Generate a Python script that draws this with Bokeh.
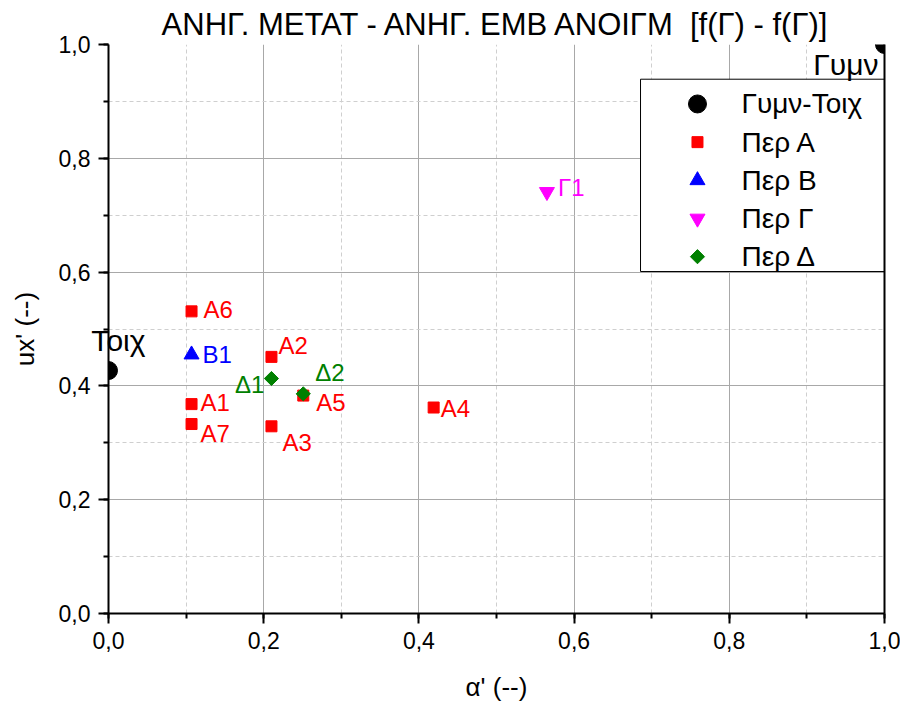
import math
from bokeh.plotting import figure
from bokeh.models import (ColumnDataSource, LinearAxis, Range1d, SingleIntervalTicker,
                          FixedTicker, CustomJSTickFormatter, Label, Title)
from bokeh.core.properties import value
from bokeh.embed import file_html
from bokeh.resources import INLINE

# ---------------- data ----------------
gt_x = [0.0, 1.0]
gt_y = [0.427, 1.0]
gt_lab = ["Τοιχ", "Γυμν"]

a_x = [0.107, 0.210, 0.210, 0.419, 0.251, 0.107, 0.107]
a_y = [0.368, 0.451, 0.329, 0.362, 0.383, 0.531, 0.333]
a_lab = ["A1", "A2", "A3", "A4", "A5", "A6", "A7"]

b_x = [0.107]
b_y = [0.455]
b_lab = ["B1"]

g_x = [0.565]
g_y = [0.741]
g_lab = ["Γ1"]

d_x = [0.210, 0.251]
d_y = [0.413, 0.386]
d_lab = ["Δ1", "Δ2"]

series_names = ["Γυμν-Τοιχ", "Περ Α", "Περ Β", "Περ Γ", "Περ Δ"]
title_text = "ΑΝΗΓ. ΜΕΤΑΤ - ΑΝΗΓ. ΕΜΒ ΑΝΟΙΓΜ \u00a0[f(Γ) - f(Γ)]"
x_title = "α' (--)"
y_title = "ux' (--)"

# ---------------- style ----------------
FONT = "Liberation Sans"
FRAME_H = 574  # frame height in px
# label offsets (pixels, screen, +dy = down) and alignment per label
lab_style = {
    "Τοιχ": (-139, -30, "axis"), "Γυμν": (-6, 20, "right"),
    "A1": (9, -2, "left"), "A2": (7, -11, "left"), "A3": (11, 16, "left"),
    "A4": (7, 1, "left"), "A5": (13, 7, "left"), "A6": (12, -2, "left"),
    "A7": (9, 9, "left"), "B1": (11, 0, "left"), "Γ1": (11, -4, "left"),
    "Δ1": (-7, 6, "right"), "Δ2": (12, -21, "left"),
}
series_style = [
    # marker, color, size, angle, label font size
    ("circle", "black", 18, 0.0, "30px"),
    ("square", "red", 11, 0.0, "24px"),
    ("triangle", "blue", 15, 0.0, "24px"),
    ("inverted_triangle", "magenta", 15, 0.0, "24px"),
    ("square", "green", 10, math.pi / 4, "24px"),
]
# legend box geometry (fractions of the axes)
LEG_L, LEG_R, LEG_T, LEG_B = 0.6856, 1.0, 0.939, 0.601
LEG_MX, LEG_TX, LEG_ROW0, LEG_STEP = 0.759, 0.8157, 0.8955, 0.0671

p = figure(width=900, height=704, output_backend="svg", toolbar_location=None,
           x_range=Range1d(0, 1), y_range=Range1d(0, 1),
           min_border_left=108, min_border_right=16, min_border_top=44,
           min_border_bottom=86, background_fill_color="white")
p.outline_line_color = None

p.title = Title(text=title_text, align="center", text_font=FONT,
                text_font_size="31px", text_font_style="normal",
                text_color="black", offset=0, standoff=5)

fmt = CustomJSTickFormatter(code="return tick.toFixed(1).replace('.', ',');")
for ax in (p.xaxis[0], p.yaxis[0]):
    ax.ticker = SingleIntervalTicker(interval=0.2, num_minor_ticks=2)
    ax.formatter = fmt
    ax.axis_line_width = 2
    ax.axis_line_color = "black"
    ax.major_tick_line_width = 2
    ax.minor_tick_line_width = 2
    ax.major_tick_out = 10
    ax.major_tick_in = 0
    ax.minor_tick_out = 5
    ax.minor_tick_in = 0
    ax.major_label_text_font = FONT
    ax.major_label_text_font_size = "23px"
    ax.major_label_text_color = "black"
    ax.axis_label_text_font = FONT
    ax.axis_label_text_font_size = "26px"
    ax.axis_label_text_font_style = "normal"
    ax.axis_label_text_color = "black"
p.xaxis[0].axis_label = x_title
p.yaxis[0].axis_label = y_title
p.xaxis[0].major_label_standoff = 8
p.xaxis[0].axis_label_standoff = 20
p.yaxis[0].major_label_standoff = 8
p.yaxis[0].axis_label_standoff = 16

rax = LinearAxis(ticker=FixedTicker(ticks=[]), axis_line_width=2, axis_line_color="black",
                 major_tick_line_color=None, minor_tick_line_color=None,
                 major_label_text_font_size="0px")
p.add_layout(rax, "right")

grid_ticker = FixedTicker(ticks=[0.2, 0.4, 0.6, 0.8], minor_ticks=[0.1, 0.3, 0.5, 0.7, 0.9])
for g in (p.xgrid[0], p.ygrid[0]):
    g.ticker = grid_ticker
    g.grid_line_color = "#a8a8a8"
    g.grid_line_width = 1
    g.minor_grid_line_color = "#cfcfcf"
    g.minor_grid_line_dash = "4 3"
    g.minor_grid_line_width = 1

all_series = [(gt_x, gt_y, gt_lab), (a_x, a_y, a_lab), (b_x, b_y, b_lab),
              (g_x, g_y, g_lab), (d_x, d_y, d_lab)]

for (xs, ys, labs), (marker, color, size, ang, lsize) in zip(all_series, series_style):
    src = ColumnDataSource(dict(x=xs, y=ys))
    p.scatter("x", "y", source=src, marker=marker, size=size, angle=ang,
              fill_color=color, line_color=color)
    for xv, yv, lab in zip(xs, ys, labs):
        dx, dy, align = lab_style[lab]
        if align == "axis":
            # label that crosses the frame edge: drawn by an outer left axis
            # (negative standoff pulls it back over the frame edge, no clipping)
            lab_ax = LinearAxis(ticker=FixedTicker(ticks=[yv - dy / FRAME_H]),
                                formatter=CustomJSTickFormatter(code="return %r;" % lab),
                                axis_line_color=None, major_tick_line_color=None,
                                minor_tick_line_color=None, major_tick_out=0,
                                major_tick_in=0, minor_tick_out=0, minor_tick_in=0,
                                major_label_standoff=dx,
                                major_label_text_font=FONT, major_label_text_font_size=lsize,
                                major_label_text_color=color)
            p.add_layout(lab_ax, "left")
        else:
            p.add_layout(Label(x=xv, y=yv, text=lab, x_offset=dx, y_offset=-dy,
                               text_align=align, text_baseline="middle",
                               text_color=color, text_font=FONT, text_font_size=lsize))

# legend (drawn manually so the marker sizes match the plot)
p.quad(left=[LEG_L], right=[LEG_R], top=[LEG_T], bottom=[LEG_B],
       fill_color="white", line_color="black", line_width=1)
leg_y = [LEG_ROW0 - i * LEG_STEP for i in range(len(series_names))]
for i, (marker, color, size, ang, lsize) in enumerate(series_style):
    p.scatter([LEG_MX], [leg_y[i]], marker=marker, size=size, angle=ang,
              fill_color=color, line_color=color)
p.text(x=[LEG_TX] * len(series_names), y=leg_y, text=series_names,
       text_align="left", text_baseline="middle", text_color="black",
       text_font=value(FONT), text_font_size="28px")

open("out.html", "w").write(file_html(p, INLINE))
